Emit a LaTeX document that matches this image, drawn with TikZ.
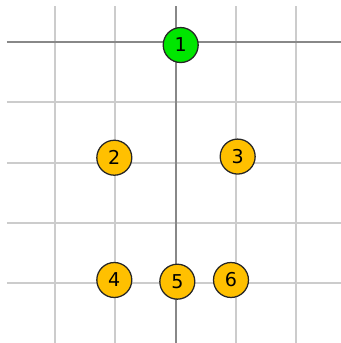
\documentclass[tikz,border=0pt]{standalone}
\usepackage{fontspec}
\setmainfont{DejaVu Sans}
\usepackage{tikz}
\usetikzlibrary{positioning}
\usepackage{xcolor}
\definecolor{gridgray}{RGB}{204,204,204}
\definecolor{axisgray}{RGB}{136,136,136}
\definecolor{rootgreen}{RGB}{0,230,0}
\definecolor{leafgold}{RGB}{255,192,0}

\begin{document}
\begin{tikzpicture}[x=1cm,y=1cm,
  vtx/.style={circle,draw=black!85,line width=0.6pt,minimum size=0.58cm,inner sep=0pt,
    font=\fontsize{9}{10}\selectfont},
  root/.style={vtx,fill=rootgreen},
  leaf/.style={vtx,fill=leafgold}]
  \useasboundingbox (-2.914,-4.992) rectangle (2.741,0.697);
  % grid
  \foreach \x in {-2,-1,1,2}{
    \draw[gridgray,line width=0.95pt] (\x,0.597)--(\x,-5.1);
  }
  \foreach \y in {-1,-2,-3,-4,-5.01}{
    \draw[gridgray,line width=0.95pt] (-2.798,\y)--(2.8,\y);
  }
  \draw[axisgray,line width=0.95pt] (0,0.597)--(0,-5.1);
  \draw[axisgray,line width=0.95pt] (-2.798,0)--(2.8,0);
  % nodes
  \node[root] (n1) at (0.083,-0.05) {1};
  \node[leaf] (n2) at (-1.018,-1.919) {2};
  \node[leaf] (n3) at (1.028,-1.90) {3};
  \node[leaf] (n4) at (-1.018,-3.947) {4};
  \node[leaf] (n5) at (0.027,-3.975) {5};
  \node[leaf] (n6) at (0.917,-3.947) {6};
\end{tikzpicture}
\end{document}
